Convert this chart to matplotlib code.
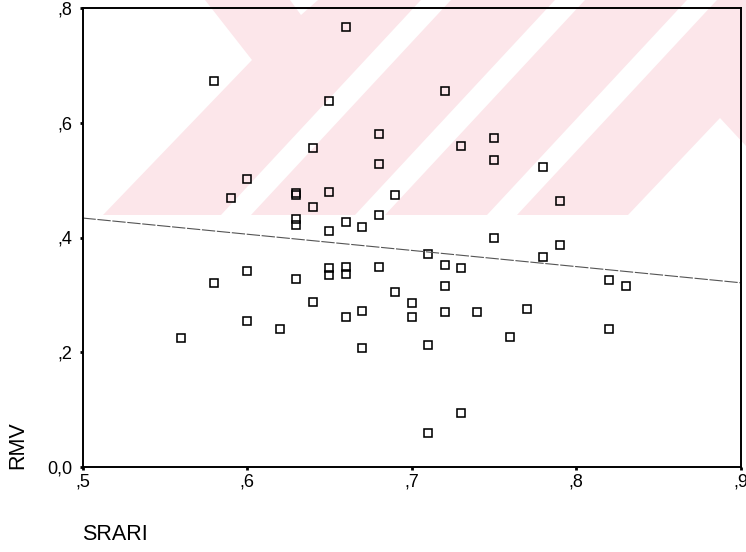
import matplotlib
matplotlib.use("Agg")
import matplotlib.pyplot as plt
from matplotlib.patches import Polygon

# SRARI vs RMV observations
srari = [0.56, 0.58, 0.58, 0.59, 0.60, 0.60, 0.60, 0.62,
         0.63, 0.63, 0.63, 0.63, 0.63,
         0.64, 0.64, 0.64,
         0.65, 0.65, 0.65, 0.65, 0.65,
         0.66, 0.66, 0.66, 0.66, 0.66,
         0.67, 0.67, 0.67,
         0.68, 0.68, 0.68, 0.68,
         0.69, 0.69, 0.70, 0.70,
         0.71, 0.71, 0.71,
         0.72, 0.72, 0.72, 0.72,
         0.73, 0.73, 0.73, 0.74,
         0.75, 0.75, 0.75, 0.76, 0.77,
         0.78, 0.78, 0.79, 0.79,
         0.82, 0.82, 0.83]
rmv = [0.225, 0.673, 0.320, 0.469, 0.502, 0.342, 0.254, 0.241,
       0.478, 0.474, 0.432, 0.422, 0.328,
       0.557, 0.454, 0.287,
       0.639, 0.480, 0.412, 0.346, 0.334,
       0.768, 0.427, 0.349, 0.336, 0.262,
       0.419, 0.271, 0.208,
       0.581, 0.529, 0.440, 0.349,
       0.475, 0.305, 0.286, 0.262,
       0.371, 0.213, 0.058,
       0.655, 0.352, 0.315, 0.270,
       0.559, 0.347, 0.093, 0.270,
       0.573, 0.536, 0.400, 0.226, 0.276,
       0.523, 0.366, 0.464, 0.387,
       0.326, 0.240, 0.315]

# linear fit line
fit_x = [0.5, 0.9]
fit_y = [0.434, 0.321]

x_ticks = [0.5, 0.6, 0.7, 0.8, 0.9]
x_ticklabels = [",5", ",6", ",7", ",8", ",9"]
y_ticks = [0.0, 0.2, 0.4, 0.6, 0.8]
y_ticklabels = ["0,0", ",2", ",4", ",6", ",8"]

W, H = 746, 552
fig = plt.figure(figsize=(W / 100, H / 100), dpi=100)
plt.rcParams["font.family"] = ["Liberation Sans", "DejaVu Sans"]

# page watermark (pixel coordinates, y down)
bg = fig.add_axes([0, 0, 1, 1], zorder=0)
bg.set_xlim(0, W)
bg.set_ylim(H, 0)
bg.axis("off")
pink = "#fce6ea"
bg.add_patch(Polygon([(205, 0), (252, 60), (103, 215), (628, 215),
                      (720, 118), (746, 146), (746, 0)],
                     closed=True, facecolor=pink, edgecolor="none"))
k = 0.93
for xb in [236, 370, 502]:
    bg.add_patch(Polygon([(xb - 15, 215), (xb + 15, 215),
                          (xb + 15 + 215 * k, 0), (xb - 15 + 215 * k, 0)],
                         closed=True, facecolor="white", edgecolor="none"))
bg.add_patch(Polygon([(290, 0), (318, 0), (301, 15)],
                     closed=True, facecolor="white", edgecolor="none"))

ax = fig.add_axes([82.5 / W, (H - 466.7) / H, (740.7 - 82.5) / W, (466.7 - 8.3) / H],
                  zorder=1)
ax.set_facecolor("none")

ax.plot(srari, rmv, linestyle="none", marker="s", markersize=5.4,
        markerfacecolor="none", markeredgecolor="black", markeredgewidth=1.15)
ax.plot(fit_x, fit_y, color="#555555", linewidth=0.8, dashes=(12, 1.5))

ax.set_xlim(0.5, 0.9)
ax.set_ylim(0.0, 0.8)
ax.set_xticks(x_ticks)
ax.set_xticklabels(x_ticklabels)
ax.set_yticks(y_ticks)
ax.set_yticklabels(y_ticklabels)
ax.tick_params(direction="out", length=2.5, width=2, labelsize=13, colors="black")
ax.tick_params(axis="x", pad=2.5)
ax.tick_params(axis="y", pad=4.5)
for s in ax.spines.values():
    s.set_linewidth(1.4)
    s.set_color("black")

# axis titles sit low on the left, as in the original output
fig.text(17.5 / W, 1 - 445.5 / H, "RMV", rotation=90, fontsize=15.5,
         ha="center", va="center")
fig.text(82 / W, 1 - 535 / H, "SRARI", fontsize=15.5, ha="left", va="center")

fig.savefig("out.png", dpi=100)
